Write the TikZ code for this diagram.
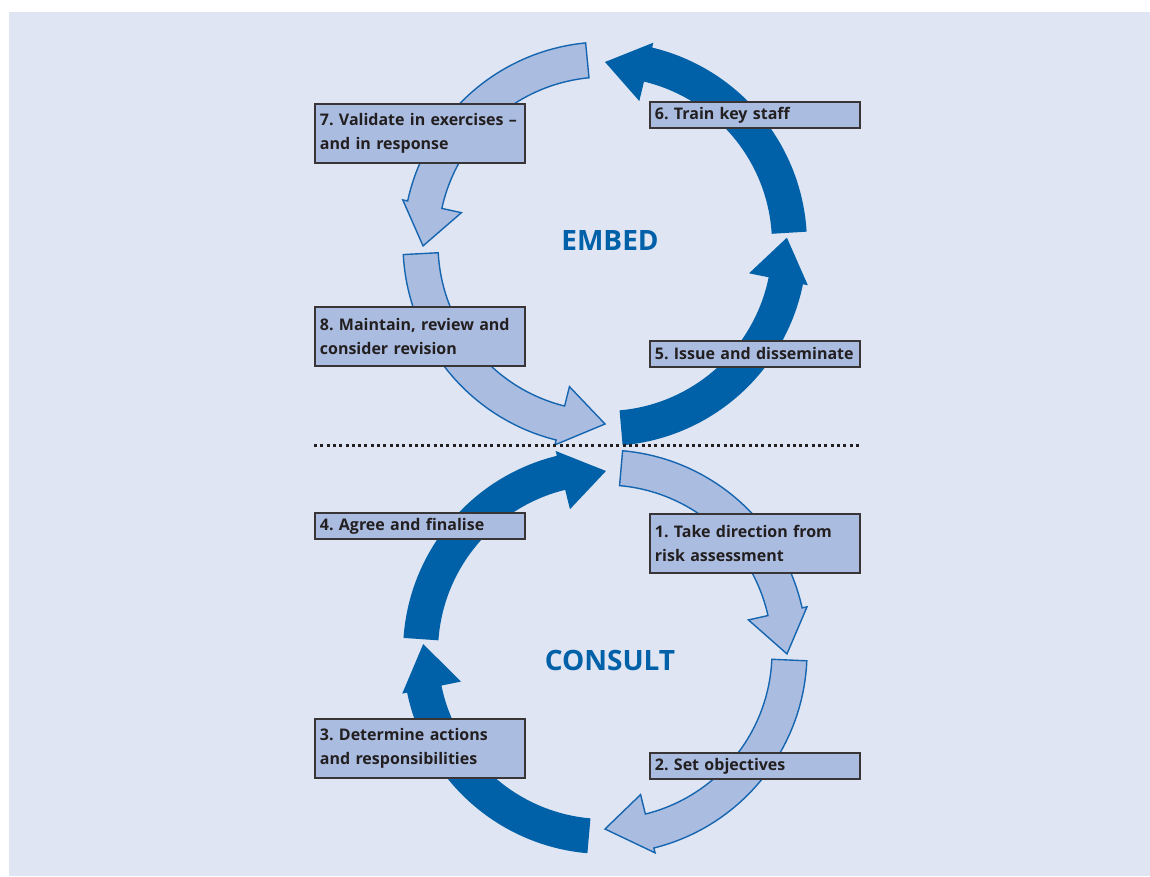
\documentclass[tikz,border=0pt]{standalone}
\usepackage{fontspec}
\setmainfont{Open Sans}
\frenchspacing
\hyphenpenalty=10000
\definecolor{bgblue}{HTML}{DFE5F2}
\definecolor{paleblue}{HTML}{AABCE0}
\definecolor{deepblue}{HTML}{0060A8}
\definecolor{lineblue}{HTML}{1565B0}
\definecolor{inkgrey}{HTML}{231F20}
\tikzset{
  stagebox/.style={draw=inkgrey!90, line width=1.8pt, fill=paleblue, text=inkgrey,
    anchor=north west, minimum width=210pt, text width=200pt, inner xsep=5pt,
    align=left, font=\bfseries\fontsize{16}{24}\selectfont},
  lightarrow/.style={fill=paleblue, draw=lineblue, line width=1.4pt, line join=miter},
  darkarrow/.style={fill=deepblue},
  cycletitle/.style={text=deepblue, font=\bfseries\fontsize{28}{32}\selectfont}
}
\begin{document}
\begin{tikzpicture}[x=1pt,y=1pt]
  % Frame
  \useasboundingbox (0,0) rectangle (1150,876);
  \fill[bgblue] (9,0) rectangle (1150,864);

  % Curved arrows of both cycles
  \foreach \cx/\cy/\a/\b/\c/\rt/\sty in {
      605/632/-85/-11.5/2/182/darkarrow, 605/632/3.5/76.5/90/182/darkarrow,
      605/632/95.5/167.7/180.6/182/lightarrow, 605/632/183/256/270/180/lightarrow,
      605/224/85/12.6/-0.6/182/lightarrow, 605/224/-2.5/-76/-90/177/lightarrow,
      605/224/265/191.6/177.5/182/darkarrow, 605/224/176/103.8/89.7/181/darkarrow}
    \path[\sty, shift={(\cx,\cy)}] (\a:202) arc[start angle=\a, end angle=\b, radius=202]
      -- (\b:207) -- (\c:\rt) -- (\b:147) -- (\b:167)
      arc[start angle=\b, end angle=\a, radius=167] -- cycle;

  % Divider
  \coordinate (divl) at (314,430);
  \coordinate (divr) at (860,430);
  \draw[inkgrey, line width=3pt, dash pattern=on 3pt off 3.3pt] (divl) -- (divr);

  % Titles
  \node[cycletitle] (embed) at (610,635) {EMBED};
  \node[cycletitle] (consult) at (610,216) {CONSULT};

  % Stages
  \node[stagebox, minimum height=26pt] (s6) at (649,775) {6. Train key staff};
  \node[stagebox, minimum height=59pt] (s7) at (314,773) {7. Validate in exercises --\\and in response};
  \node[stagebox, minimum height=59pt] (s8) at (314,570) {8. Maintain, review and\\consider revision};
  \node[stagebox, minimum height=26pt] (s5) at (649,536) {5. Issue and disseminate};
  \node[stagebox, minimum height=26pt] (s4) at (314,364) {4. Agree and finalise};
  \node[stagebox, minimum height=59pt] (s1) at (649,363) {1. Take direction from\\risk assessment};
  \node[stagebox, minimum height=59pt] (s3) at (314,158) {3. Determine actions\\and responsibilities};
  \node[stagebox, minimum height=26pt] (s2) at (649,124) {2. Set objectives};
\end{tikzpicture}
\end{document}
